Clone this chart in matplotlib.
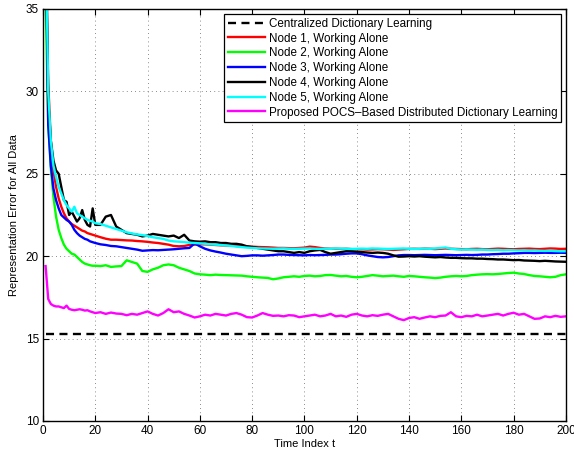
import matplotlib
matplotlib.use("Agg")
import matplotlib.pyplot as plt

plt.rcParams["font.family"] = ["Liberation Sans", "DejaVu Sans"]

T = list(range(1, 21)) + list(range(22, 201, 2))

CENTRAL = 15.3

NODE1 = [40, 30.5, 27.0, 25.2, 24.2, 23.5, 23.0, 22.6, 22.3, 22.1, 21.95, 21.85, 21.75, 21.65, 21.55, 21.5, 21.4, 21.35, 21.3, 21.25,
         21.15, 21.06, 21.0, 21.0, 20.98, 20.96, 20.95, 20.92, 20.9, 20.87,
         20.83, 20.8, 20.75, 20.7, 20.62, 20.6, 20.62, 20.68, 20.7, 20.72,
         20.72, 20.7, 20.68, 20.66, 20.65, 20.64, 20.62, 20.6, 20.6, 20.58,
         20.56, 20.55, 20.54, 20.52, 20.5, 20.5, 20.49, 20.48, 20.5, 20.52,
         20.58, 20.55, 20.5, 20.47, 20.45, 20.45, 20.44, 20.45, 20.43, 20.42,
         20.42, 20.4, 20.41, 20.43, 20.42, 20.4, 20.38, 20.4, 20.42, 20.44,
         20.45, 20.44, 20.46, 20.45, 20.43, 20.45, 20.47, 20.45, 20.44, 20.43,
         20.42, 20.44, 20.45, 20.43, 20.42, 20.44, 20.46, 20.45, 20.43, 20.42,
         20.44, 20.45, 20.46, 20.44, 20.43, 20.45, 20.47, 20.46, 20.44, 20.45]

NODE2 = [35.5, 28.0, 25.3, 23.6, 22.4, 21.6, 21.1, 20.7, 20.45, 20.3, 20.15, 20.1, 19.95, 19.8, 19.65, 19.55, 19.5, 19.45, 19.42, 19.42,
         19.4, 19.45, 19.35, 19.38, 19.4, 19.75, 19.65, 19.55, 19.1, 19.05,
         19.2, 19.3, 19.45, 19.5, 19.45, 19.3, 19.2, 19.1, 18.95, 18.9,
         18.88, 18.85, 18.88, 18.86, 18.85, 18.84, 18.83, 18.82, 18.78, 18.75,
         18.72, 18.7, 18.68, 18.6, 18.65, 18.72, 18.75, 18.78, 18.75, 18.8,
         18.82, 18.78, 18.8, 18.85, 18.86, 18.82, 18.78, 18.8, 18.75, 18.72,
         18.75, 18.8, 18.85, 18.82, 18.78, 18.8, 18.82, 18.78, 18.75, 18.8,
         18.78, 18.75, 18.72, 18.7, 18.67, 18.7, 18.75, 18.78, 18.8, 18.78,
         18.8, 18.85, 18.88, 18.9, 18.91, 18.9, 18.92, 18.95, 18.98, 19.0,
         18.95, 18.92, 18.85, 18.8, 18.78, 18.75, 18.72, 18.75, 18.85, 18.9]

NODE3 = [40, 28.0, 25.5, 24.1, 23.4, 22.9, 22.5, 22.35, 22.2, 22.1, 21.9, 21.6, 21.4, 21.25, 21.15, 21.05, 21.0, 20.9, 20.85, 20.8,
         20.72, 20.68, 20.62, 20.6, 20.55, 20.5, 20.45, 20.4, 20.33, 20.35,
         20.37, 20.36, 20.38, 20.4, 20.42, 20.45, 20.48, 20.5, 20.78, 20.6,
         20.45, 20.35, 20.28, 20.22, 20.15, 20.1, 20.05, 20.0, 20.02, 20.05,
         20.05, 20.03, 20.05, 20.07, 20.1, 20.1, 20.08, 20.07, 20.06, 20.05,
         20.07, 20.06, 20.07, 20.08, 20.1, 20.1, 20.12, 20.15, 20.17, 20.17,
         20.12, 20.05, 20.0, 19.95, 19.93, 19.95, 20.0, 20.05, 20.07, 20.07,
         20.06, 20.07, 20.08, 20.07, 20.06, 20.07, 20.08, 20.07, 20.06, 20.07,
         20.08, 20.07, 20.08, 20.1, 20.1, 20.12, 20.13, 20.15, 20.15, 20.17,
         20.18, 20.2, 20.2, 20.19, 20.2, 20.21, 20.2, 20.2, 20.21, 20.2]

NODE4 = [40, 29.5, 27.0, 25.8, 25.2, 25.0, 24.2, 23.4, 23.3, 22.5, 22.7, 22.4, 22.1, 22.3, 22.8, 22.2, 21.9, 21.8, 22.9, 21.9,
         21.9, 22.4, 22.5, 21.8, 21.6, 21.4, 21.35, 21.3, 21.2, 21.25,
         21.35, 21.3, 21.25, 21.2, 21.25, 21.1, 21.3, 20.95, 20.9, 20.88,
         20.9, 20.85, 20.85, 20.8, 20.8, 20.75, 20.75, 20.7, 20.6, 20.55,
         20.5, 20.45, 20.4, 20.35, 20.3, 20.3, 20.25, 20.2, 20.25, 20.2,
         20.3, 20.35, 20.38, 20.25, 20.15, 20.2, 20.25, 20.3, 20.3, 20.27,
         20.25, 20.22, 20.2, 20.22, 20.2, 20.15, 20.05, 19.97, 19.98, 20.0,
         19.98, 20.0, 19.97, 19.95, 19.93, 19.95, 19.92, 19.9, 19.9, 19.88,
         19.87, 19.87, 19.85, 19.85, 19.83, 19.82, 19.8, 19.8, 19.78, 19.76,
         19.77, 19.74, 19.73, 19.72, 19.7, 19.72, 19.7, 19.68, 19.67, 19.66]

NODE5 = [40, 30.0, 27.0, 25.5, 24.8, 24.2, 23.8, 23.4, 23.1, 22.9, 22.7, 23.0, 22.6, 22.5, 22.4, 22.3, 22.2, 22.15, 22.1, 22.0,
         21.95, 21.85, 21.75, 21.65, 21.55, 21.45, 21.38, 21.32, 21.28, 21.22,
         21.15, 21.1, 21.05, 20.95, 20.9, 20.88, 20.85, 20.82, 20.8, 20.78,
         20.75, 20.72, 20.7, 20.68, 20.65, 20.62, 20.58, 20.55, 20.52, 20.5,
         20.48, 20.47, 20.46, 20.45, 20.46, 20.47, 20.45, 20.44, 20.45, 20.46,
         20.47, 20.45, 20.44, 20.46, 20.45, 20.47, 20.46, 20.45, 20.44, 20.45,
         20.46, 20.45, 20.47, 20.46, 20.45, 20.44, 20.45, 20.46, 20.47, 20.45,
         20.44, 20.45, 20.46, 20.45, 20.47, 20.5, 20.53, 20.45, 20.42, 20.4,
         20.41, 20.4, 20.39, 20.4, 20.38, 20.37, 20.38, 20.36, 20.37, 20.36,
         20.35, 20.36, 20.34, 20.35, 20.33, 20.32, 20.33, 20.31, 20.3, 20.3]

POCS = [19.4, 17.4, 17.1, 17.0, 16.95, 16.95, 16.9, 16.85, 17.0, 16.8, 16.75, 16.72, 16.75, 16.78, 16.75, 16.7, 16.72, 16.65, 16.6, 16.55,
        16.6, 16.5, 16.58, 16.52, 16.5, 16.42, 16.5, 16.45, 16.55, 16.65,
        16.5, 16.4, 16.55, 16.78, 16.6, 16.65, 16.5, 16.4, 16.28, 16.35,
        16.45, 16.4, 16.5, 16.45, 16.4, 16.5, 16.55, 16.45, 16.3, 16.28,
        16.4, 16.55, 16.45, 16.38, 16.4, 16.35, 16.42, 16.4, 16.3, 16.35,
        16.4, 16.45, 16.35, 16.4, 16.5, 16.35, 16.4, 16.32, 16.45, 16.5,
        16.4, 16.35, 16.42, 16.38, 16.45, 16.5, 16.35, 16.2, 16.12, 16.25,
        16.3, 16.2, 16.28, 16.35, 16.3, 16.38, 16.4, 16.6, 16.35, 16.3,
        16.38, 16.35, 16.45, 16.35, 16.4, 16.45, 16.5, 16.4, 16.5, 16.57,
        16.45, 16.5, 16.35, 16.2, 16.22, 16.35, 16.3, 16.38, 16.32, 16.35]

SERIES = [
    ("Node 1, Working Alone", NODE1, "#ff0000"),
    ("Node 2, Working Alone", NODE2, "#00ff00"),
    ("Node 3, Working Alone", NODE3, "#0000ff"),
    ("Node 4, Working Alone", NODE4, "#000000"),
    ("Node 5, Working Alone", NODE5, "#00ffff"),
    ("Proposed POCS\u2013Based Distributed Dictionary Learning", POCS, "#ff00ff"),
]

fig = plt.figure(figsize=(5.74, 4.54), dpi=100)
ax = fig.add_axes([0.0749, 0.0727, 0.911, 0.9075])

ax.plot([T[0], T[-1]], [CENTRAL, CENTRAL], color="black", lw=1.7,
        dashes=(3.4, 2.3), label="Centralized Dictionary Learning")
for label, vals, color in SERIES:
    ax.plot(T, vals, color=color, lw=1.7, label=label)

ax.set_xlim(0, 200)
ax.set_ylim(10, 35)
ax.set_xticks(range(0, 201, 20))
ax.set_yticks(range(10, 36, 5))
ax.grid(True, color="#666666", ls=(0, (1, 4)), lw=0.6)
ax.tick_params(direction="in", top=True, right=True, length=4, width=0.8,
               labelsize=8.5, pad=3)
for s in ax.spines.values():
    s.set_linewidth(1.0)
ax.set_xlabel("Time Index t", fontsize=8, labelpad=1)
ax.set_ylabel("Representation Error for All Data", fontsize=8, labelpad=5)

leg = ax.legend(loc="upper right", fontsize=8.4, handlelength=3.2,
                handletextpad=0.3, labelspacing=0.24, borderaxespad=0.45,
                borderpad=0.3, fancybox=False, framealpha=1)
leg.get_frame().set_edgecolor("black")
leg.get_frame().set_linewidth(0.9)

fig.savefig("out.png", dpi=100)
